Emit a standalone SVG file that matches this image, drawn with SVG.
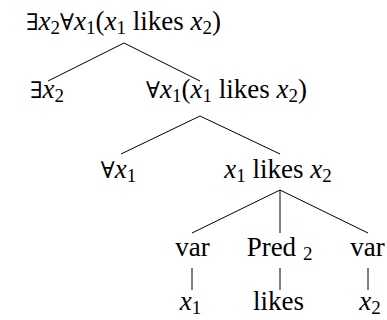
<svg xmlns="http://www.w3.org/2000/svg" width="387" height="320" viewBox="0 0 387 320">
  <rect width="387" height="320" fill="#fff"/>

  <!-- tree edges -->
  <g id="edges" stroke="#000" stroke-width="1" fill="none">
    <line x1="124" y1="43" x2="48" y2="81"/>
    <line x1="124" y1="43" x2="200" y2="81"/>
    <line x1="200" y1="116" x2="121" y2="154"/>
    <line x1="200" y1="116" x2="280" y2="154"/>
    <line x1="280" y1="190" x2="192" y2="233"/>
    <line x1="280" y1="190" x2="280" y2="233"/>
    <line x1="280" y1="190" x2="368" y2="233"/>
    <line x1="192" y1="268" x2="192" y2="290"/>
    <line x1="280" y1="268" x2="280" y2="290"/>
    <line x1="368" y1="268" x2="368" y2="290"/>
  </g>

  <g id="n-formula">
    <text x="123.5" y="30" text-anchor="middle" font-family="Liberation Serif" font-size="27" style="font-family:'Liberation Serif';font-size:27px"><tspan font-family="DejaVu Serif" font-size="23" style="font-family:'DejaVu Serif';font-size:23px">∃</tspan><tspan font-style="italic">x</tspan><tspan font-size="19" style="font-size:19px" dy="4">2</tspan><tspan font-family="DejaVu Serif" font-size="23" style="font-family:'DejaVu Serif';font-size:23px" dy="-4">∀</tspan><tspan font-style="italic">x</tspan><tspan font-size="19" style="font-size:19px" dy="4">1</tspan><tspan dy="-4">(</tspan><tspan font-style="italic">x</tspan><tspan font-size="19" style="font-size:19px" dy="4">1</tspan><tspan dy="-4"> likes </tspan><tspan font-style="italic">x</tspan><tspan font-size="19" style="font-size:19px" dy="4">2</tspan><tspan dy="-4">)</tspan></text>
  </g>

  <g id="n-exists-x2">
    <text x="47" y="98" text-anchor="middle" font-family="Liberation Serif" font-size="27" style="font-family:'Liberation Serif';font-size:27px"><tspan font-family="DejaVu Serif" font-size="23" style="font-family:'DejaVu Serif';font-size:23px">∃</tspan><tspan font-style="italic">x</tspan><tspan font-size="19" style="font-size:19px" dy="4">2</tspan></text>
  </g>

  <g id="n-forall-body">
    <text x="226.5" y="98" text-anchor="middle" font-family="Liberation Serif" font-size="27" style="font-family:'Liberation Serif';font-size:27px"><tspan font-family="DejaVu Serif" font-size="23" style="font-family:'DejaVu Serif';font-size:23px">∀</tspan><tspan font-style="italic">x</tspan><tspan font-size="19" style="font-size:19px" dy="4">1</tspan><tspan dy="-4">(</tspan><tspan font-style="italic">x</tspan><tspan font-size="19" style="font-size:19px" dy="4">1</tspan><tspan dy="-4"> likes </tspan><tspan font-style="italic">x</tspan><tspan font-size="19" style="font-size:19px" dy="4">2</tspan><tspan dy="-4">)</tspan></text>
  </g>

  <g id="n-forall-x1">
    <text x="118.5" y="178" text-anchor="middle" font-family="Liberation Serif" font-size="27" style="font-family:'Liberation Serif';font-size:27px"><tspan font-family="DejaVu Serif" font-size="23" style="font-family:'DejaVu Serif';font-size:23px">∀</tspan><tspan font-style="italic">x</tspan><tspan font-size="19" style="font-size:19px" dy="4">1</tspan></text>
  </g>

  <g id="n-likes-clause">
    <text x="278" y="178" text-anchor="middle" font-family="Liberation Serif" font-size="27" style="font-family:'Liberation Serif';font-size:27px"><tspan font-style="italic">x</tspan><tspan font-size="19" style="font-size:19px" dy="4">1</tspan><tspan dy="-4"> likes </tspan><tspan font-style="italic">x</tspan><tspan font-size="19" style="font-size:19px" dy="4">2</tspan></text>
  </g>

  <g id="n-var-left">
    <text x="192.5" y="256" text-anchor="middle" font-family="Liberation Serif" font-size="27" style="font-family:'Liberation Serif';font-size:27px">var</text>
  </g>

  <g id="n-pred">
    <text x="279.5" y="256" text-anchor="middle" font-family="Liberation Serif" font-size="27" style="font-family:'Liberation Serif';font-size:27px">Pred <tspan font-size="19" style="font-size:19px" dy="4">2</tspan></text>
  </g>

  <g id="n-var-right">
    <text x="367.5" y="256" text-anchor="middle" font-family="Liberation Serif" font-size="27" style="font-family:'Liberation Serif';font-size:27px">var</text>
  </g>

  <g id="n-leaf-x1">
    <text x="190.5" y="310" text-anchor="middle" font-family="Liberation Serif" font-size="27" style="font-family:'Liberation Serif';font-size:27px"><tspan font-style="italic">x</tspan><tspan font-size="19" style="font-size:19px" dy="4">1</tspan></text>
  </g>

  <g id="n-leaf-likes">
    <text x="278.5" y="310" text-anchor="middle" font-family="Liberation Serif" font-size="27" style="font-family:'Liberation Serif';font-size:27px">likes</text>
  </g>

  <g id="n-leaf-x2">
    <text x="370" y="310" text-anchor="middle" font-family="Liberation Serif" font-size="27" style="font-family:'Liberation Serif';font-size:27px"><tspan font-style="italic">x</tspan><tspan font-size="19" style="font-size:19px" dy="4">2</tspan></text>
  </g>
</svg>
